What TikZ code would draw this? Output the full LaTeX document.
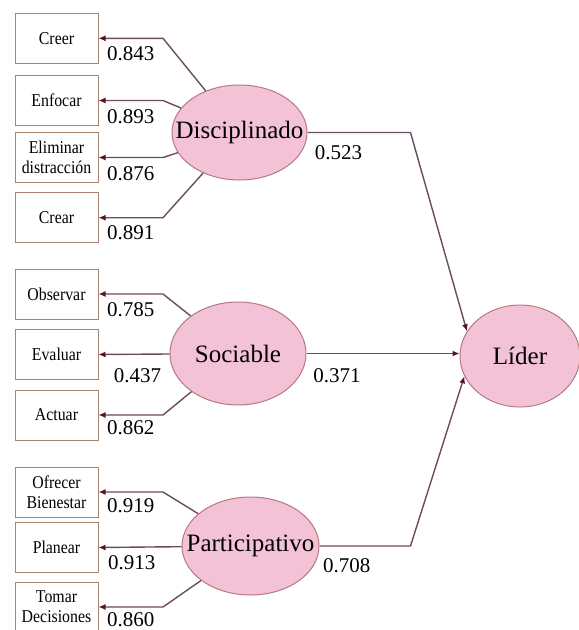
\documentclass[tikz,border=0pt]{standalone}
\usepackage{fontspec}
\setmainfont{Liberation Serif}
\newfontfamily\boxfont[FakeStretch=0.88]{Liberation Serif}
\usetikzlibrary{arrows.meta,shapes.geometric}
\definecolor{latfill}{HTML}{F4C2D7}
\definecolor{latdraw}{HTML}{B5797F}
\definecolor{obsdraw}{HTML}{A8836E}
\definecolor{pathcol}{HTML}{6B4A63}
\definecolor{tipcol}{HTML}{5C0F2A}

\begin{document}
\begin{tikzpicture}[x=1pt,y=-1pt,
  latent/.style={ellipse,draw=latdraw,fill=latfill,line width=1pt,inner sep=0pt,font=\rmfamily\fontsize{25}{28}\selectfont},
  indicator/.style={rectangle,draw=obsdraw,line width=1pt,minimum width=83pt,minimum height=50pt,inner sep=1pt,align=center,font=\boxfont\fontsize{18}{20}\selectfont},
  loading/.style={draw=pathcol,line width=1.4pt,-{Latex[length=7pt,width=6pt,color=tipcol]}},
  coef/.style={font=\rmfamily\fontsize{21}{24}\selectfont,inner sep=0pt}]
\useasboundingbox (0,0) rectangle (579,630);

\node[indicator] (creer) at (56.5,38.3) {Creer};
\node[indicator] (enfocar) at (56.5,100.5) {Enfocar};
\node[indicator] (eliminar) at (56.5,157.5) {Eliminar\\distracción};
\node[indicator] (crear) at (56.5,217.7) {Crear};
\node[indicator] (observar) at (56.5,294) {Observar};
\node[indicator] (evaluar) at (56.5,354.5) {Evaluar};
\node[indicator] (actuar) at (56.5,415) {Actuar};
\node[indicator] (ofrecer) at (56.5,492) {Ofrecer\\Bienestar};
\node[indicator] (planear) at (56.5,547.5) {Planear};
\node[indicator] (tomar) at (56.5,607) {Tomar\\Decisiones};

\node[latent,minimum width=135pt,minimum height=95pt] (dis) at (239.5,132.5) {\makebox[0pt]{Disciplinado}};
\node[latent,minimum width=136pt,minimum height=103pt] (soc) at (238,353.5) {\makebox[0pt]{Sociable}};
\node[latent,minimum width=137pt,minimum height=98pt] (par) at (250.5,546) {\makebox[0pt]{Participativo}};
\node[latent,minimum width=120pt,minimum height=102pt] (lid) at (520,356) {\makebox[0pt]{Líder}};

\draw[loading] (dis) -- ([xshift=64.5pt]creer.east) -- node[coef,below=8pt] {0.843} (creer.east);
\draw[loading] (dis) -- ([xshift=64.5pt]enfocar.east) -- node[coef,below=8pt] {0.893} (enfocar.east);
\draw[loading] (dis) -- ([xshift=64.5pt]eliminar.east) -- node[coef,below=8pt] {0.876} (eliminar.east);
\draw[loading] (dis) -- ([xshift=64.5pt]crear.east) -- node[coef,below=7pt] {0.891} (crear.east);

\draw[loading] (soc) -- ([xshift=64.5pt]observar.east) -- node[coef,below=8pt] {0.785} (observar.east);
\draw[loading] (soc) -- node[coef,below=14pt,pos=0.45] {0.437} (evaluar.east);
\draw[loading] (soc) -- ([xshift=64.5pt]actuar.east) -- node[coef,below=5pt] {0.862} (actuar.east);

\draw[loading] (par) -- ([xshift=64.5pt]ofrecer.east) -- node[coef,below=6pt] {0.919} (ofrecer.east);
\draw[loading] (par) -- node[coef,below=8pt,pos=0.6] {0.913} (planear.east);
\draw[loading] (par) -- ([xshift=64.5pt]tomar.east) -- node[coef,below=5pt] {0.860} (tomar.east);

\draw[loading] (dis.east) -- ++(103,0) node[coef,pos=0.3,below=12pt] {0.523} -- (lid.155);
\draw[loading] (soc.east) -- node[coef,pos=0.2,below=14pt] {0.371} (soc.east -| lid.west);
\draw[loading] (par.east) -- ++(91,0) node[coef,pos=0.3,below=12pt] {0.708} -- (lid.200);
\end{tikzpicture}
\end{document}
